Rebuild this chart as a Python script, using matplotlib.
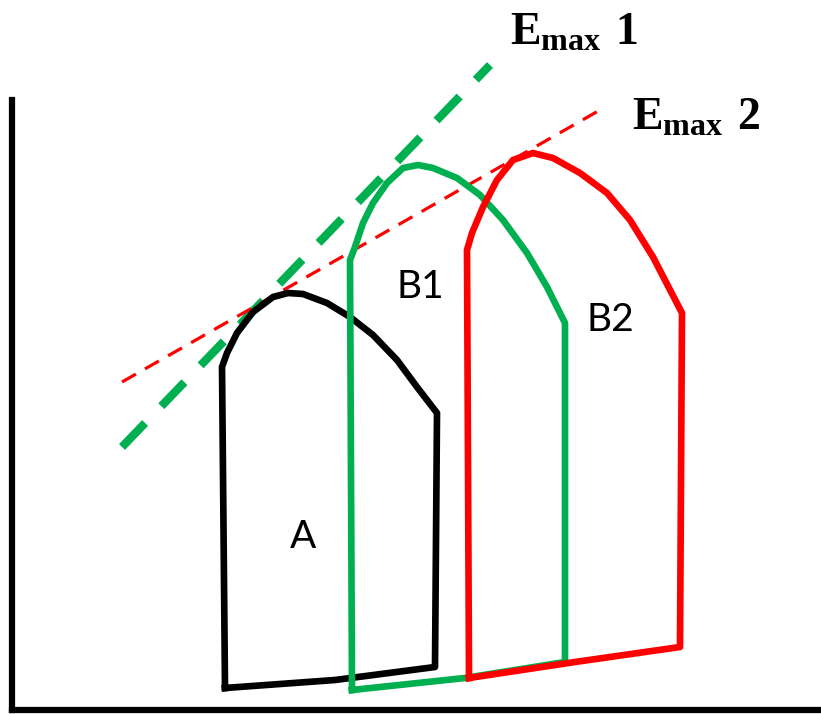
import numpy as np
import matplotlib.pyplot as plt

# Loop outlines (pixel-like units, y grows downwards)
loop_a_x = [225, 335, 435, 437, 417, 397, 373, 350, 327, 303, 288, 273, 253, 237, 227, 222, 225]
loop_a_y = [688, 680, 667, 413, 387, 360, 335, 317, 303, 294, 293, 297, 312, 333, 353, 367, 688]

loop_b1_x = [352, 465, 565, 565, 547, 527, 503, 480, 457, 433, 418, 403, 387, 373, 363, 355, 350, 352]
loop_b1_y = [690, 678, 662, 323, 287, 253, 220, 195, 178, 168, 165, 168, 183, 203, 223, 247, 260, 690]

loop_b2_x = [469, 575, 680, 682, 653, 630, 607, 580, 553, 533, 513, 497, 483, 472, 467, 469]
loop_b2_y = [678, 662, 647, 313, 257, 220, 193, 173, 158, 153, 160, 180, 207, 233, 250, 678]

emax1_x = [122, 490]
emax1_y = [447, 65]
emax2_x = [122, 600]
emax2_y = [382, 110]

loop_labels = ['A', 'B1', 'B2']
loop_label_x = [303, 420, 610]
loop_label_y = [537, 287, 320]

plt.rcParams['mathtext.fontset'] = 'custom'
plt.rcParams['mathtext.bf'] = 'Liberation Serif:bold'
plt.rcParams['mathtext.rm'] = 'Liberation Serif'

fig = plt.figure(figsize=(8.21, 7.14), dpi=100)
ax = fig.add_axes([12 / 821, 4 / 714, 1 - 12 / 821, (710 - 100) / 714])
ax.set_xlim(12, 821)
ax.set_ylim(710, 100)

# Emax lines
ax.plot(emax1_x, emax1_y, color='#00b050', lw=6.0, dashes=(4.0, 2.8),
        dash_capstyle='butt', clip_on=False, zorder=1)
ax.plot(emax2_x, emax2_y, color='#ff0000', lw=2.3, dashes=(5.0, 3.3),
        dash_capstyle='butt', clip_on=False, zorder=1)

# PV loops
ax.plot(loop_a_x, loop_a_y, color='black', lw=4.8, solid_joinstyle='round',
        clip_on=False, zorder=2)
ax.plot(loop_b1_x, loop_b1_y, color='#00b050', lw=4.8, solid_joinstyle='round',
        clip_on=False, zorder=3)
ax.plot(loop_b2_x, loop_b2_y, color='#ff0000', lw=4.8, solid_joinstyle='round',
        clip_on=False, zorder=4)

for lab, lx, ly in zip(loop_labels, loop_label_x, loop_label_y):
    ax.text(lx, ly, lab, fontsize=28, family='Lato', ha='center', va='center')

ax.text(510, 45, r'$\mathbf{E_{max}\ 1}$', fontsize=33, ha='left', va='baseline',
        clip_on=False)
ax.text(632, 130, r'$\mathbf{E_{max}\ 2}$', fontsize=33, ha='left', va='baseline',
        clip_on=False)

ax.set_xticks([])
ax.set_yticks([])
for side in ['top', 'right']:
    ax.spines[side].set_visible(False)
for side in ['left', 'bottom']:
    ax.spines[side].set_linewidth(4.5)
    ax.spines[side].set_color('black')

fig.savefig('out.png', dpi=100)
